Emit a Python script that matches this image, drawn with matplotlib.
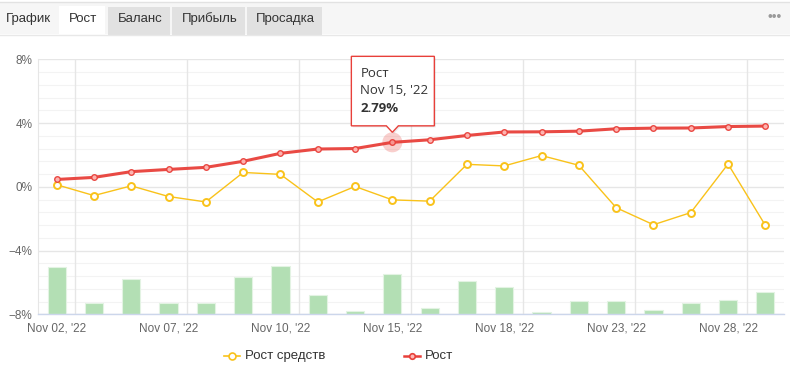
import matplotlib
matplotlib.use("Agg")
import matplotlib.pyplot as plt
import matplotlib.transforms as mtransforms
from matplotlib.patches import Rectangle, Polygon, Circle
from matplotlib.lines import Line2D
import numpy as np

plt.rcParams['font.family'] = ['Liberation Sans', 'DejaVu Sans']

# ---------------- data ----------------
dates = ["Nov 02, '22", "Nov 03, '22", "Nov 04, '22", "Nov 07, '22", "Nov 08, '22",
         "Nov 09, '22", "Nov 10, '22", "Nov 11, '22", "Nov 14, '22", "Nov 15, '22",
         "Nov 16, '22", "Nov 17, '22", "Nov 18, '22", "Nov 21, '22", "Nov 22, '22",
         "Nov 23, '22", "Nov 24, '22", "Nov 25, '22", "Nov 28, '22", "Nov 29, '22"]
growth = [0.46, 0.59, 0.95, 1.09, 1.22, 1.60, 2.10, 2.37, 2.40, 2.79,
          2.95, 3.22, 3.44, 3.45, 3.49, 3.64, 3.68, 3.69, 3.78, 3.81]
equity_growth = [0.13, -0.55, 0.06, -0.61, -0.95, 0.90, 0.78, -0.95, 0.02, -0.82,
                 -0.90, 1.41, 1.31, 1.96, 1.35, -1.31, -2.38, -1.62, 1.43, -2.42]
bar_values = [18.7, 4.5, 14.0, 4.5, 4.5, 14.7, 19.1, 7.5, 1.4, 15.9,
              2.4, 12.9, 10.6, 1.0, 5.1, 5.1, 1.6, 4.3, 5.6, 8.6]
tick_every = 3
yticks = [-8, -4, 0, 4, 8]
ytick_labels = ["\u22128%", "\u22124%", "0%", "4%", "8%"]
tabs = ["График", "Рост", "Баланс", "Прибыль", "Просадка"]
legend_labels = ["Рост средств", "Рост"]
tooltip_index = 9

RED = "#e8403a"
YELLOW = "#f9c21a"
GREEN = "#b3dfb4"

W, H = 790, 365
fig = plt.figure(figsize=(W / 100, H / 100), dpi=100)
fig.patch.set_facecolor("white")

def fx(px):
    return px / W

def fy(py):
    return 1 - py / H

# ---------------- tabs ----------------
fig.patches.append(Rectangle((0, fy(34)), 1, fy(2) - fy(34), transform=fig.transFigure,
                             facecolor="#f6f6f6", edgecolor="none", zorder=0))
fig.lines.append(Line2D([0, 1], [fy(2), fy(2)], transform=fig.transFigure, color="#e2e2e2", lw=1))
fig.lines.append(Line2D([0, 1], [fy(34.5), fy(34.5)], transform=fig.transFigure, color="#e8e8e8", lw=1))
tab_geom = [(2, 52, None), (59, 105, "white"), (108, 170, "#e1e1e1"), (172, 245, "#e1e1e1"), (247, 322, "#e1e1e1")]
for (x0, x1, col), name in zip(tab_geom, tabs):
    if col is not None:
        top = 6 if col == "white" else 7
        fig.patches.append(Rectangle((fx(x0), fy(35)), fx(x1) - fx(x0), fy(top) - fy(35),
                                     transform=fig.transFigure, facecolor=col, edgecolor="none", zorder=1))
    fig.text(fx((x0 + x1) / 2 + 1), fy(19), name, ha="center", va="center", fontsize=9.5,
             color="#333333", zorder=2)
fig.text(fx(775), fy(17), "\u2022\u2022\u2022", ha="center", va="center", fontsize=10, color="#9a9a9a")

# ---------------- axes ----------------
ax = fig.add_axes([fx(38), fy(314.3), fx(784) - fx(38), fy(59.3) - fy(314.3)])
ax2 = ax.twinx()
ax.set_zorder(ax2.get_zorder() + 1)
ax.patch.set_visible(False)

x = np.arange(len(dates))
ax.set_xlim(-0.5, len(dates) - 0.5)
ax.set_ylim(-8, 8)

# grid (drawn on the lower axes, in the main axes' data coordinates, behind the bars)
for v in np.arange(-8, 8.01, 0.8):
    if abs(v / 4 - round(v / 4)) < 1e-6:
        continue
    ax2.add_line(Line2D([-0.5, len(dates) - 0.5], [v, v], transform=ax.transData,
                        color="#f3f3f3", lw=0.8, zorder=0))
for v in yticks:
    ax2.add_line(Line2D([-0.5, len(dates) - 0.5], [v, v], transform=ax.transData,
                        color="#e6e6e6", lw=1, zorder=0))
for g in np.arange(0.5, len(dates) - 0.5, tick_every):
    ax2.add_line(Line2D([g, g], [-8, 8], transform=ax.transData,
                        color="#e6e6e6", lw=1, zorder=0))

ax2.bar(x, bar_values, width=0.49, color=GREEN, edgecolor="#e3f3e3", linewidth=0.8, zorder=2)
ax2.set_ylim(0, 100)
ax2.set_yticks([])
for s in ax2.spines.values():
    s.set_visible(False)

ax.plot(x, equity_growth, color=YELLOW, lw=1, marker="o", ms=5, mfc="white", mec=YELLOW,
        mew=1.4, zorder=3)
ax.plot(x, growth, color=RED, lw=2.2, marker="o", ms=4, mfc="#ffb8b5", mec=RED,
        mew=1, zorder=4, alpha=0.95)

# ticks
ax.set_yticks(yticks)
ax.set_yticklabels(ytick_labels)
ax.set_xticks(x[::tick_every])
ax.set_xticklabels([dates[i] for i in x[::tick_every]])
ax.tick_params(axis="both", length=0, labelsize=8.5, colors="#666666")
ax.tick_params(axis="y", pad=4)
ax.tick_params(axis="x", pad=6)
for name, s in ax.spines.items():
    s.set_visible(False)
ax.spines["left"].set_visible(True)
ax.spines["left"].set_color("#e6e6e6")
ax.spines["bottom"].set_visible(True)
ax.spines["bottom"].set_color("#ccd6eb")
ax.spines["bottom"].set_linewidth(1)

# ---------------- tooltip ----------------
xi, yi = x[tooltip_index], growth[tooltip_index]
tt = fig.dpi_scale_trans + mtransforms.ScaledTranslation(xi, yi, ax.transData)
ax.add_patch(Circle((0, 0), 0.10, transform=tt, facecolor=RED, alpha=0.25, edgecolor="none", zorder=5))
box = [(-0.41, 0.86), (0.42, 0.86), (0.42, 0.165), (0.06, 0.165), (0.0, 0.10),
       (-0.06, 0.165), (-0.41, 0.165)]
shadow = [(px + 0.015, py - 0.015) for px, py in box]
ax.add_patch(Polygon(shadow, closed=True, transform=tt, facecolor="#000000", alpha=0.08,
                     edgecolor="none", zorder=6, clip_on=False))
ax.add_patch(Polygon(box, closed=True, transform=tt, facecolor="white", edgecolor=RED,
                     lw=1, zorder=7, clip_on=False))
ax.text(-0.32, 0.69, legend_labels[1], transform=tt, fontsize=9.5, color="#333333",
        va="center", ha="left", zorder=8, family=["Open Sans", "DejaVu Sans"])
ax.text(-0.32, 0.515, dates[tooltip_index], transform=tt, fontsize=9.5, color="#333333",
        va="center", ha="left", zorder=8, family=["Open Sans", "DejaVu Sans"])
ax.text(-0.32, 0.335, f"{growth[tooltip_index]:.2f}%", transform=tt, fontsize=9.5, color="#333333",
        va="center", ha="left", zorder=8, fontweight="bold", family=["Open Sans", "DejaVu Sans"])

# ---------------- legend ----------------
for (x0, col, mfc, lw, ms), lab in zip([(224, YELLOW, "white", 1.2, 5), (404, RED, "#ffb8b5", 1.8, 4)], legend_labels):
    fig.lines.append(Line2D([fx(x0), fx(x0 + 16)], [fy(356), fy(356)], transform=fig.transFigure,
                            color=col, lw=lw))
    fig.lines.append(Line2D([fx(x0 + 8)], [fy(356)], transform=fig.transFigure, color=col,
                            marker="o", ms=ms, mfc=mfc, mec=col, mew=1.2, lw=0))
    fig.text(fx(x0 + 21), fy(356), lab, ha="left", va="center", fontsize=9.5, color="#333333")

fig.savefig("out.png", dpi=100, facecolor="white")
